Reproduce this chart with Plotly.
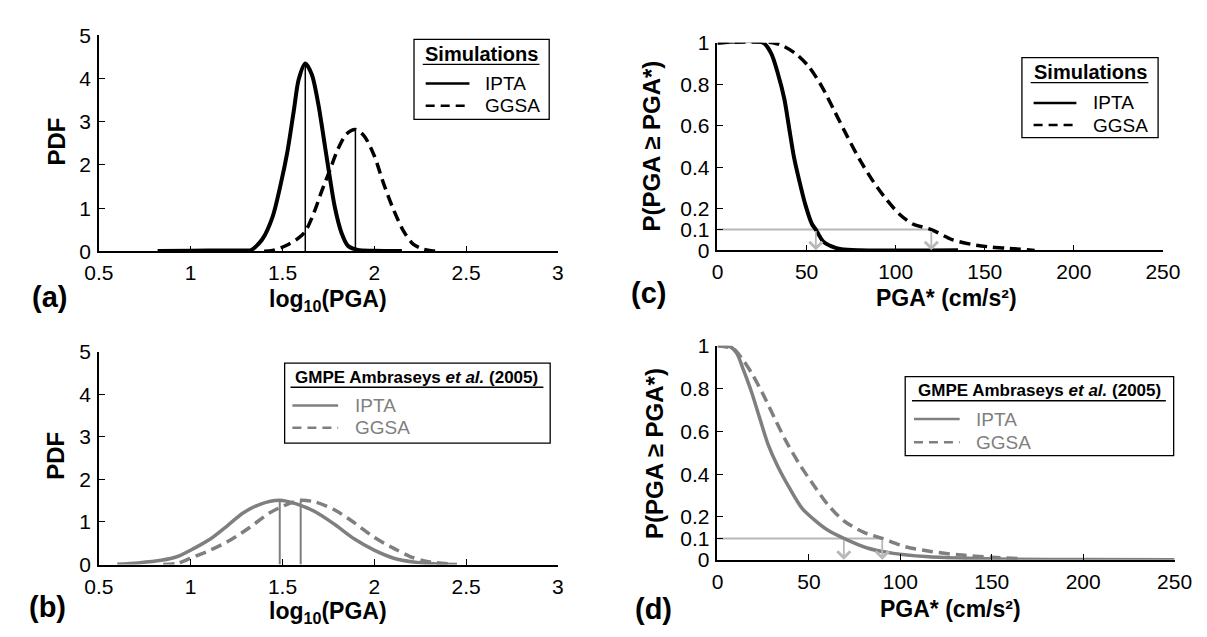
import plotly.graph_objects as go

# ---------------- data ----------------
series_names = ["IPTA", "GGSA"]

# (a) simulations, PDF of log10(PGA)
a_ipta_x = [0.82, 1.0, 1.2, 1.30, 1.33, 1.39, 1.446, 1.49, 1.526, 1.562, 1.588, 1.624, 1.66, 1.695, 1.731, 1.758, 1.785, 1.821, 1.856, 1.91, 2.0, 2.15]
a_ipta_y = [0.01, 0.015, 0.02, 0.02, 0.03, 0.28, 0.80, 1.55, 2.29, 3.27, 3.98, 4.35, 4.09, 3.41, 2.44, 1.70, 1.02, 0.43, 0.13, 0.03, 0.015, 0.01]
a_ggsa_x = [1.40, 1.446, 1.517, 1.588, 1.624, 1.669, 1.714, 1.758, 1.802, 1.847, 1.897, 1.945, 1.999, 2.052, 2.106, 2.160, 2.213, 2.267, 2.32, 2.36]
a_ggsa_y = [0.0, 0.02, 0.13, 0.31, 0.46, 0.87, 1.40, 1.88, 2.37, 2.71, 2.82, 2.67, 2.22, 1.55, 0.95, 0.46, 0.16, 0.05, 0.01, 0.0]
a_mean_x = [1.624, 1.897]
a_mean_peak = [4.35, 2.82]

# (b) GMPE Ambraseys et al. (2005), PDF of log10(PGA)
b_ipta_x = [0.60, 0.714, 0.84, 0.928, 1.018, 1.107, 1.196, 1.285, 1.374, 1.485, 1.571, 1.678, 1.785, 1.892, 1.999, 2.106, 2.213, 2.32, 2.45]
b_ipta_y = [0.01, 0.04, 0.10, 0.19, 0.38, 0.60, 0.90, 1.21, 1.41, 1.51, 1.43, 1.24, 0.94, 0.60, 0.34, 0.15, 0.06, 0.02, 0.0]
b_ggsa_x = [0.85, 0.928, 0.999, 1.107, 1.214, 1.321, 1.428, 1.535, 1.599, 1.678, 1.785, 1.892, 1.999, 2.106, 2.195, 2.28, 2.40]
b_ggsa_y = [0.0, 0.03, 0.15, 0.34, 0.57, 0.87, 1.21, 1.43, 1.51, 1.47, 1.28, 0.98, 0.64, 0.38, 0.19, 0.08, 0.02]
b_mean_x = [1.485, 1.599]
b_mean_peak = [1.51, 1.51]

# (c) simulations, exceedance probability
c_ipta_x = [0, 25.6, 30.2, 33.8, 37.5, 40.2, 42.9, 45.7, 49.3, 53.0, 55.2, 59.4, 64.0, 69.5, 80, 135]
c_ipta_y = [1.0, 1.0, 0.947, 0.854, 0.73, 0.59, 0.45, 0.343, 0.22, 0.127, 0.10, 0.042, 0.019, 0.005, 0.0, 0.0]
c_ggsa_x = [0, 31, 36.5, 43.9, 51.2, 58.5, 65.8, 73.1, 80.4, 87.7, 95.0, 102.3, 109.6, 120, 131.6, 142.5, 153.5, 162.7, 178]
c_ggsa_y = [1.0, 1.0, 0.985, 0.947, 0.885, 0.79, 0.668, 0.544, 0.428, 0.328, 0.243, 0.173, 0.127, 0.10, 0.052, 0.029, 0.016, 0.01, 0.0]
c_p10 = [55.2, 120.0]   # PGA* at 10 % exceedance (IPTA, GGSA)

# (d) GMPE Ambraseys et al. (2005), exceedance probability
d_ipta_x = [0, 7.1, 10.7, 14.2, 18.7, 23.1, 27.6, 33.0, 39.2, 46.3, 52.5, 60.0, 69.1, 81.9, 96.2, 113.9, 131.7, 160, 200, 250]
d_ipta_y = [1.0, 0.995, 0.962, 0.887, 0.782, 0.662, 0.541, 0.436, 0.338, 0.24, 0.19, 0.14, 0.10, 0.055, 0.030, 0.015, 0.008, 0.003, 0.001, 0.0]
d_ggsa_x = [0, 8.9, 13.4, 18.7, 24.9, 31.2, 37.4, 44.5, 51.6, 60.5, 69.4, 80.1, 90.1, 103.3, 117.5, 131.8, 150, 165]
d_ggsa_y = [1.0, 0.985, 0.94, 0.872, 0.774, 0.662, 0.556, 0.451, 0.361, 0.256, 0.18, 0.128, 0.10, 0.06, 0.038, 0.023, 0.012, 0.006]
d_p10 = [69.1, 90.1]

p_level = 0.1

pdf_xticks = [0.5, 1, 1.5, 2, 2.5, 3]
pdf_yticks = [0, 1, 2, 3, 4, 5]
cdf_xticks = [0, 50, 100, 150, 200, 250]
cdf_yticks = [0, 0.1, 0.2, 0.4, 0.6, 0.8, 1]
cdf_yticktext = ["0", "0.1", "0.2", "0.4", "0.6", "0.8", "1"]

# ---------------- style ----------------
FONT = "Liberation Sans, Arial, sans-serif"
BLACK = "#000000"
GREY = "#7f7f7f"
LIGHT = "#b8b8b8"
DASH = "11px,6px"
W, H = 1207, 637

fig = go.Figure()


def curve(x, y, name, color, dash, xa, ya, width=4):
    fig.add_trace(go.Scatter(
        x=x, y=y, mode="lines", name=name, xaxis=xa, yaxis=ya, showlegend=False,
        line=dict(color=color, width=width, dash=dash, shape="spline", smoothing=0.8),
        hoverinfo="skip"))


# (a)
curve(a_ipta_x, a_ipta_y, series_names[0], BLACK, "solid", "x", "y", width=4)
curve(a_ggsa_x, a_ggsa_y, series_names[1], BLACK, DASH, "x", "y", width=3.5)
for mx, pk in zip(a_mean_x, a_mean_peak):
    fig.add_trace(go.Scatter(x=[mx, mx], y=[0, pk], mode="lines", xaxis="x", yaxis="y",
                             showlegend=False, line=dict(color=BLACK, width=1.5), hoverinfo="skip"))
# (b)
curve(b_ipta_x, b_ipta_y, series_names[0], GREY, "solid", "x2", "y2", width=3.5)
curve(b_ggsa_x, b_ggsa_y, series_names[1], GREY, DASH, "x2", "y2", width=3.5)
for mx, pk in zip(b_mean_x, b_mean_peak):
    fig.add_trace(go.Scatter(x=[mx, mx], y=[0, pk], mode="lines", xaxis="x2", yaxis="y2",
                             showlegend=False, line=dict(color=GREY, width=2), hoverinfo="skip"))
# (c)
fig.add_trace(go.Scatter(x=[0, max(c_p10)], y=[p_level, p_level], mode="lines", xaxis="x3", yaxis="y3",
                         showlegend=False, line=dict(color=LIGHT, width=2), hoverinfo="skip"))
curve(c_ipta_x, c_ipta_y, series_names[0], BLACK, "solid", "x3", "y3", width=4)
curve(c_ggsa_x, c_ggsa_y, series_names[1], BLACK, DASH, "x3", "y3", width=3.5)
# (d)
fig.add_trace(go.Scatter(x=[0, max(d_p10)], y=[p_level, p_level], mode="lines", xaxis="x4", yaxis="y4",
                         showlegend=False, line=dict(color=LIGHT, width=2), hoverinfo="skip"))
curve(d_ipta_x, d_ipta_y, series_names[0], GREY, "solid", "x4", "y4", width=3.5)
curve(d_ggsa_x, d_ggsa_y, series_names[1], GREY, DASH, "x4", "y4", width=3.5)

# down arrows at the 10 % exceedance PGA*
annotations = []
shapes = []
for xa, ya, vals in (("x3", "y3", c_p10), ("x4", "y4", d_p10)):
    for v in vals:
        annotations.append(dict(x=v, y=0, ax=v, ay=p_level, xref=xa, yref=ya, axref=xa, ayref=ya,
                                text="", showarrow=True, arrowhead=4, arrowsize=1.4,
                                arrowwidth=1.8, arrowcolor=LIGHT))


def px(x):
    return x / W


def py(y):
    return 1 - y / H


def ptext(txt, x, y, size, angle=0, color=BLACK, anchor="center"):
    annotations.append(dict(text=txt, x=px(x), y=py(y), xref="paper", yref="paper",
                            showarrow=False, textangle=angle, xanchor=anchor, yanchor="middle",
                            font=dict(family=FONT, size=size, color=color)))


# axis titles
ptext("<b>log<sub>10</sub>(PGA)</b>", 314, 291, 23)
ptext("<b>PDF</b>", 34, 126, 24, -90)
ptext("<b>log<sub>10</sub>(PGA)</b>", 314, 615, 23)
ptext("<b>PDF</b>", 34, 452, 24, -90)
ptext("<b>PGA* (cm/s²)</b>", 949, 288, 23)
ptext("<b>P(PGA ≥ PGA*)</b>", 646, 131, 24, -90)
ptext("<b>PGA* (cm/s²)</b>", 954, 611, 23)
ptext("<b>P(PGA ≥ PGA*)</b>", 649, 450, 24, -90)
# panel letters
ptext("<b>(a)</b>", 27, 287, 29)
ptext("<b>(b)</b>", 25, 609, 29)
ptext("<b>(c)</b>", 643, 283, 29)
ptext("<b>(d)</b>", 648, 611, 29)


# legends (box, underlined title, line samples + labels)
def legend(box, title, title_cx, title_y, title_size, ul, rows, sx, tx, color):
    x0, y0, x1, y1 = box
    shapes.append(dict(type="rect", xref="paper", yref="paper", x0=px(x0), x1=px(x1),
                       y0=py(y1), y1=py(y0), line=dict(color=BLACK, width=1.3),
                       fillcolor="white", layer="above"))
    ptext(title, title_cx, title_y, title_size)
    shapes.append(dict(type="line", xref="paper", yref="paper", x0=px(ul[0]), x1=px(ul[1]),
                       y0=py(ul[2]), y1=py(ul[2]), line=dict(color=BLACK, width=1.3), layer="above"))
    for name, dash, ry in zip(series_names, ["solid", "9px,6px"], rows):
        shapes.append(dict(type="line", xref="paper", yref="paper", x0=px(sx[0]), x1=px(sx[1]),
                           y0=py(ry), y1=py(ry), line=dict(color=color, width=2.5, dash=dash),
                           layer="above"))
        ptext(name, tx, ry, 19, color=color, anchor="left")


legend((402, 20, 541, 103), "<b>Simulations</b>", 471, 35, 20, (411, 531, 46),
       [66, 89], (414, 459), 473, BLACK)
legend((1027, 39, 1167, 122), "<b>Simulations</b>", 1097, 54, 20, (1036, 1157, 65),
       [86, 109], (1039, 1083), 1098, BLACK)
legend((269, 356, 542, 439), "<b>GMPE Ambraseys <em>et al.</em> (2005)</b>", 405, 371, 17,
       (275, 535, 381), [400, 423], (277, 324), 339, GREY)
legend((907, 370, 1183, 452), "<b>GMPE Ambraseys <em>et al.</em> (2005)</b>", 1045, 384, 17,
       (914, 1175, 395), [414, 438], (916, 963), 978, GREY)


def axis(domain, rng, tickvals, ticktext=None, anchor=None):
    d = dict(domain=domain, range=rng, tickmode="array", tickvals=tickvals,
             ticks="inside", ticklen=6, tickwidth=1.2, tickcolor=BLACK,
             showline=True, linecolor=BLACK, linewidth=1.5, mirror=False,
             showgrid=False, zeroline=False, anchor=anchor, ticklabelstandoff=2,
             tickfont=dict(family=FONT, size=21, color=BLACK), fixedrange=True)
    if ticktext is not None:
        d["ticktext"] = ticktext
    return d


fig.update_layout(
    width=W, height=H, margin=dict(l=0, r=0, t=0, b=0),
    paper_bgcolor="white", plot_bgcolor="white",
    font=dict(family=FONT, color=BLACK),
    xaxis=axis([78 / W, 550 / W], [0.5, 3], pdf_xticks, anchor="y"),
    yaxis=axis([py(240), py(16)], [0, 5], pdf_yticks, anchor="x"),
    xaxis2=axis([78 / W, 550 / W], [0.5, 3], pdf_xticks, anchor="y2"),
    yaxis2=axis([py(565), py(344)], [0, 5], pdf_yticks, anchor="x2"),
    xaxis3=axis([714 / W, 1172 / W], [0, 250], cdf_xticks, anchor="y3"),
    yaxis3=axis([py(239), py(23.5)], [0, 1], cdf_yticks, cdf_yticktext, anchor="x3"),
    xaxis4=axis([714 / W, 1184 / W], [0, 250], cdf_xticks, anchor="y4"),
    yaxis4=axis([py(560), py(338)], [0, 1], cdf_yticks, cdf_yticktext, anchor="x4"),
    annotations=annotations,
    shapes=shapes,
    showlegend=False,
)

fig.write_html("out.html")
